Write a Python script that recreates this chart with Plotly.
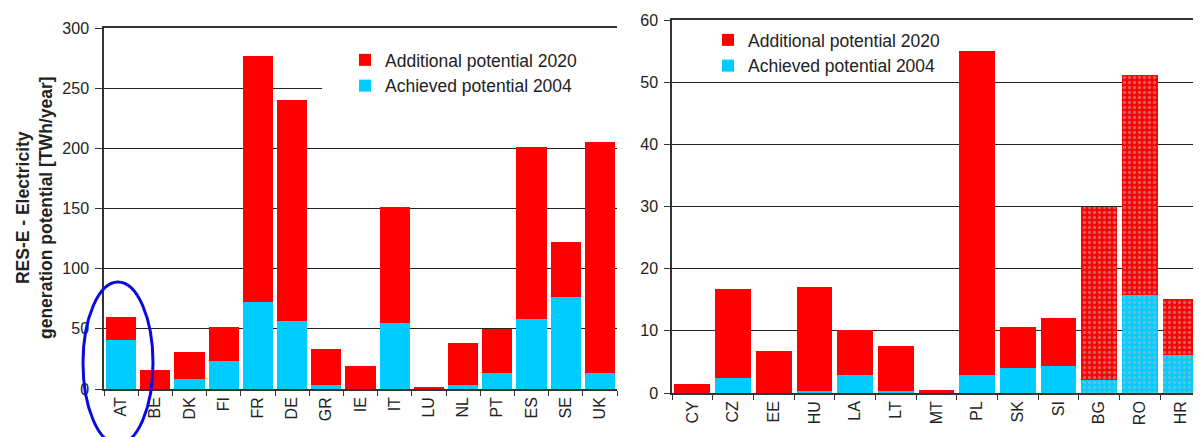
import plotly.graph_objects as go

W, H = 1201, 437
OFF = 8  # page body margin of the rendered html

# ---------------- data ----------------
left_countries = ["AT", "BE", "DK", "FI", "FR", "DE", "GR", "IE", "IT", "LU", "NL", "PT", "ES", "SE", "UK"]
left_achieved_2004 = [40.5, 0, 8.5, 23.5, 72, 56.5, 3.5, 0, 54.5, 0, 3.5, 13.5, 58, 76.5, 13.5]
left_additional_2020 = [19.5, 16, 22, 28, 205, 183.5, 29.5, 19.5, 97, 1.2, 34.5, 36, 143.5, 45.5, 191.5]

right_countries = ["CY", "CZ", "EE", "HU", "LA", "LT", "MT", "PL", "SK", "SI", "BG", "RO", "HR"]
right_achieved_2004 = [0, 2.4, 0, 0.3, 2.95, 0.3, 0, 2.9, 4.1, 4.4, 2.1, 15.8, 6.05]
right_additional_2020 = [1.45, 14.25, 6.75, 16.8, 7.15, 7.2, 0.5, 52.1, 6.5, 7.65, 27.9, 35.3, 9.1]
patterned_countries = ["BG", "RO", "HR"]

left_ticks = [0, 50, 100, 150, 200, 250, 300]
right_ticks = [0, 10, 20, 30, 40, 50, 60]

RED = "#FF0000"
CYAN = "#00CCFF"
FONT = "Liberation Sans, Arial, sans-serif"


def px_x(p):
    return (p - OFF) / W


def px_y(p):
    return 1 - (p - OFF) / H


right_shapes = ["." if c in patterned_countries else "" for c in right_countries]
pattern = dict(shape=right_shapes, fgcolor="#b8b8b8", size=5, solidity=0.35)

fig = go.Figure()
fig.add_trace(go.Bar(x=left_countries, y=left_achieved_2004, name="Achieved potential 2004",
                     marker=dict(color=CYAN, line=dict(width=0)), xaxis="x", yaxis="y",
                     legend="legend", legendrank=2))
fig.add_trace(go.Bar(x=left_countries, y=left_additional_2020, name="Additional potential 2020",
                     marker=dict(color=RED, line=dict(width=0)), xaxis="x", yaxis="y",
                     legend="legend", legendrank=1))
fig.add_trace(go.Bar(x=right_countries, y=right_achieved_2004, name="Achieved potential 2004",
                     marker=dict(color=CYAN, line=dict(width=0), pattern=pattern),
                     xaxis="x2", yaxis="y2", legend="legend2", legendrank=2))
fig.add_trace(go.Bar(x=right_countries, y=right_additional_2020, name="Additional potential 2020",
                     marker=dict(color=RED, line=dict(width=0), pattern=pattern),
                     xaxis="x2", yaxis="y2", legend="legend2", legendrank=1))

axis_common = dict(showline=True, linecolor="#333333", linewidth=1.5, ticks="outside",
                   tickcolor="#333333", tickwidth=1.3, automargin=False,
                   tickfont=dict(family=FONT, size=16, color="#222222"))

legend_font = dict(family=FONT, size=17.5, color="#222222")

fig.update_layout(
    width=W, height=H,
    margin=dict(l=0, r=0, t=0, b=0, pad=0),
    paper_bgcolor="white", plot_bgcolor="white",
    barmode="stack", bargap=0.12,
    font=dict(family=FONT, size=16, color="#222222"),
    xaxis=dict(domain=[px_x(104), px_x(617)], anchor="y", tickangle=-90, tickson="boundaries",
               ticklen=5, showgrid=False, mirror=True, **axis_common),
    yaxis=dict(domain=[px_y(389), px_y(28)], anchor="x", range=[0, 300], tickvals=left_ticks,
               ticklen=7, showgrid=True, gridcolor="#222222", gridwidth=1.3, zeroline=False,
               ticklabelstandoff=3, **axis_common),
    xaxis2=dict(domain=[px_x(672), px_x(1201)], anchor="y2", tickangle=-90, tickson="boundaries",
                ticklen=5, showgrid=False, mirror=True, **axis_common),
    yaxis2=dict(domain=[px_y(393), px_y(20)], anchor="x2", range=[0, 60], tickvals=right_ticks,
                ticklen=6, showgrid=True, gridcolor="#222222", gridwidth=1.3, zeroline=False,
                ticklabelstandoff=3, **axis_common),
    legend=dict(x=px_x(345), y=px_y(42), xanchor="left", yanchor="top",
                traceorder="normal", tracegroupgap=4,
                bgcolor="white", font=legend_font, itemwidth=30),
    legend2=dict(x=px_x(708), y=px_y(22), xanchor="left", yanchor="top",
                 traceorder="normal", tracegroupgap=4,
                 bgcolor="rgba(255,255,255,0)", font=legend_font, itemwidth=30),
    annotations=[dict(text="<b>RES-E - Electricity<br>generation potential [TWh/year]</b>",
                      x=px_x(34), y=px_y(208), xref="paper", yref="paper", textangle=-90,
                      showarrow=False, xanchor="center", yanchor="middle",
                      font=dict(family=FONT, size=17.5, color="#222222"))],
    shapes=[
        # white backing of the legend box, hiding the 250 gridline behind it
        dict(type="rect", xref="paper", yref="y", x0=px_x(322), x1=px_x(619), y0=246, y1=254,
             fillcolor="white", line=dict(width=0), layer="above"),
        dict(type="circle", xref="paper", yref="paper",
             x0=px_x(83), x1=px_x(153), y0=px_y(444), y1=px_y(282),
             line=dict(color="#0A0AE0", width=3)),
    ],
)

fig.write_html("out.html")
